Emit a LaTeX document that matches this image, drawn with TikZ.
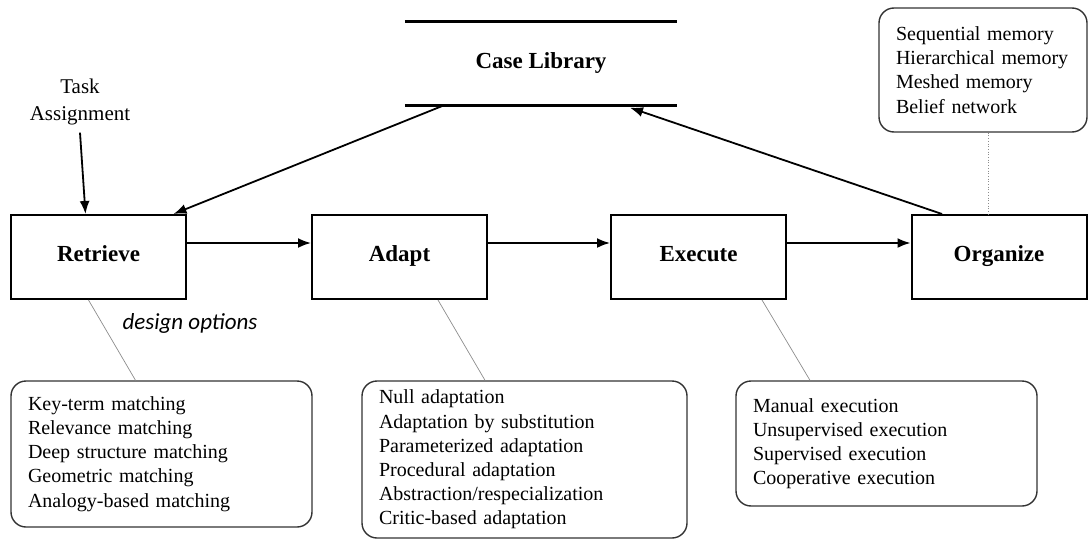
\documentclass[tikz,border=0pt]{standalone}
\usepackage{fontspec}
\setmainfont{Liberation Serif}
\newfontfamily\notefont{Carlito}
\usetikzlibrary{arrows.meta}

\begin{document}
\begin{tikzpicture}[x=1pt,y=-1pt,
  stepbox/.style={draw,line width=2pt,minimum width=175pt,minimum height=84pt,
    text height=14pt,text depth=6pt,font=\fontsize{23}{27}\selectfont\bfseries},
  optbox/.style={draw=black!80,line width=1.4pt,rounded corners=15pt,align=left,
    inner xsep=17pt,font=\fontsize{20}{24.2}\selectfont},
  flow/.style={line width=1.8pt,-{Latex[length=13pt,width=10pt]}},
  note/.style={draw=black!45,line width=0.7pt}]

\useasboundingbox (0,0) rectangle (1088,546);

% main cycle
\node[stepbox] (ret)   at (98.5,257) {Retrieve};
\node[stepbox] (adapt) at (399.5,257) {Adapt};
\node[stepbox] (exec)  at (698.5,257) {Execute};
\node[stepbox] (org)   at (999,257) {Organize};

\draw[flow] ([yshift=14pt]ret.east) -- ([yshift=14pt]adapt.west);
\draw[flow] ([yshift=14pt]adapt.east) -- ([yshift=14pt]exec.west);
\draw[flow] ([yshift=14pt]exec.east) -- ([yshift=14pt]org.west);

% case library
\node[minimum width=272pt,minimum height=84pt,font=\fontsize{23}{27}\selectfont\bfseries] (lib) at (541,63.5) {Case Library};
\draw[line width=3.5pt] (lib.north west) -- (lib.north east) (lib.south west) -- (lib.south east);

\draw[flow] ([xshift=-98pt]lib.south) -- ([xshift=75pt]ret.north);
\draw[flow] ([xshift=-57pt]org.north) -- ([xshift=89pt,yshift=-2pt]lib.south);

% task input
\node[font=\fontsize{21}{27}\selectfont,align=center] (task) at (80,102) {Task\\Assignment};
\draw[flow] ([yshift=-4pt]task.south) -- ([xshift=-13pt]ret.north);

\node[font=\fontsize{23}{27}\notefont\itshape] (design) at (190,323) {design options};

% option lists
\node[optbox,text width=267pt,minimum height=146pt] (retopt) at (161.5,454) {Key-term matching\\Relevance matching\\Deep structure matching\\Geometric matching\\Analogy-based matching};
\node[optbox,text width=291pt,minimum height=157pt] (adaptopt) at (524.5,459.5) {Null adaptation\\Adaptation by substitution\\Parameterized adaptation\\Procedural adaptation\\Abstraction/respecialization\\Critic-based adaptation};
\node[optbox,text width=267pt,minimum height=125pt] (execopt) at (886.5,443.5) {Manual execution\\Unsupervised execution\\Supervised execution\\Cooperative execution};
\node[optbox,text width=174pt,minimum height=124pt] (orgopt) at (983,70) {Sequential memory\\Hierarchical memory\\Meshed memory\\Belief network};

\draw[note] ([xshift=-10pt]ret.south) -- ([xshift=-26pt]retopt.north);
\draw[note] ([xshift=38.5pt]adapt.south) -- ([xshift=-39.5pt]adaptopt.north);
\draw[note] ([xshift=63.5pt]exec.south) -- ([xshift=-76.5pt]execopt.north);
\draw[note,dotted] ([xshift=5pt]orgopt.south) -- ([xshift=-11pt]org.north);

\end{tikzpicture}
\end{document}
